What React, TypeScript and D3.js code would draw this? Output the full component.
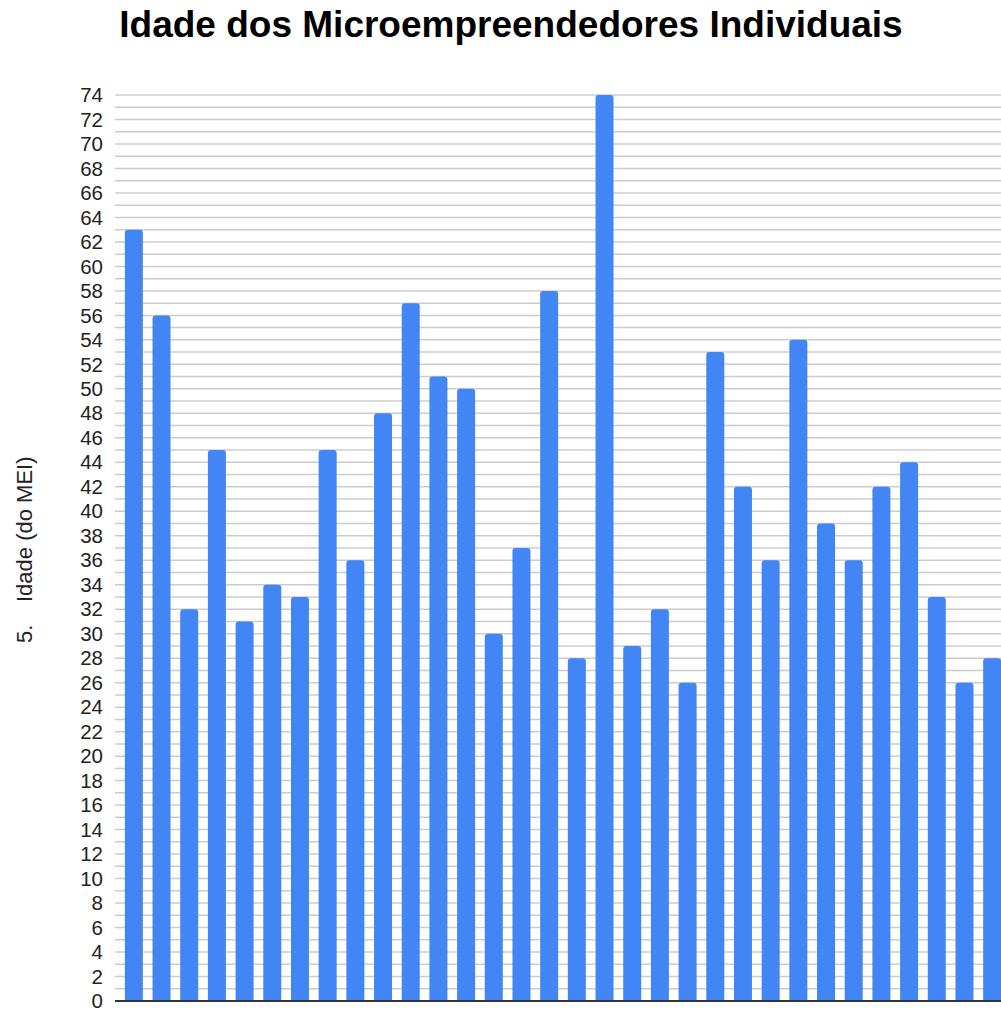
import React from "react";
import * as d3 from "d3";

const respondents = Array.from({ length: 32 }, (_, i) => `R${i + 1}`);
const ages = [63, 56, 32, 45, 31, 34, 33, 45, 36, 48, 57, 51, 50, 30, 37, 58, 28, 74, 29, 32, 26, 53, 42, 36, 54, 39, 36, 42, 44, 33, 26, 28];
const yTicks = d3.range(0, 75, 2);
const gridValues = d3.range(1, 75, 1);

const W = 1001;
const H = 1009;

export default function App() {
  const x = d3.scaleBand<string>().domain(respondents).range([120, 1006]).paddingInner(0.35).paddingOuter(0.175);
  const y = d3.scaleLinear().domain([0, 74]).range([1001, 95]);
  const r = 3;
  const barPath = (x0: number, w: number, yTop: number, yBot: number) =>
    `M${x0},${yBot}V${yTop + r}Q${x0},${yTop} ${x0 + r},${yTop}H${x0 + w - r}Q${x0 + w},${yTop} ${x0 + w},${yTop + r}V${yBot}Z`;
  return (
    <svg width={W} height={H} style={{ position: "absolute", left: 0, top: 0, background: "#fff" }} fontFamily="'Liberation Sans', Arial, sans-serif">
      <rect x={0} y={0} width={W} height={H} fill="#fff" />
      <text x={511} y={37} textAnchor="middle" fontSize={37} fontWeight="bold" fill="#000">
        Idade dos Microempreendedores Individuais
      </text>
      {gridValues.map((v) => (
        <line key={v} x1={115} x2={W} y1={y(v)} y2={y(v)} stroke="#cccccc" strokeWidth={1.5} />
      ))}
      {yTicks.map((v) => (
        <text key={v} x={103} y={y(v)} dy="0.35em" textAnchor="end" fontSize={20.5} fill="#222">
          {v}
        </text>
      ))}
      {ages.map((v, i) => {
        const bx = x(respondents[i])!;
        return <path key={i} d={barPath(bx, x.bandwidth(), y(v), y(0))} fill="#4285f4" />;
      })}
      <line x1={115} x2={W} y1={y(0)} y2={y(0)} stroke="#333" strokeWidth={2} />
      <text transform="translate(32,0) rotate(-90)" fontSize={22} fill="#222">
        <tspan x={-643}>5.</tspan>
        <tspan x={-602}>Idade (do MEI)</tspan>
      </text>
    </svg>
  );
}
